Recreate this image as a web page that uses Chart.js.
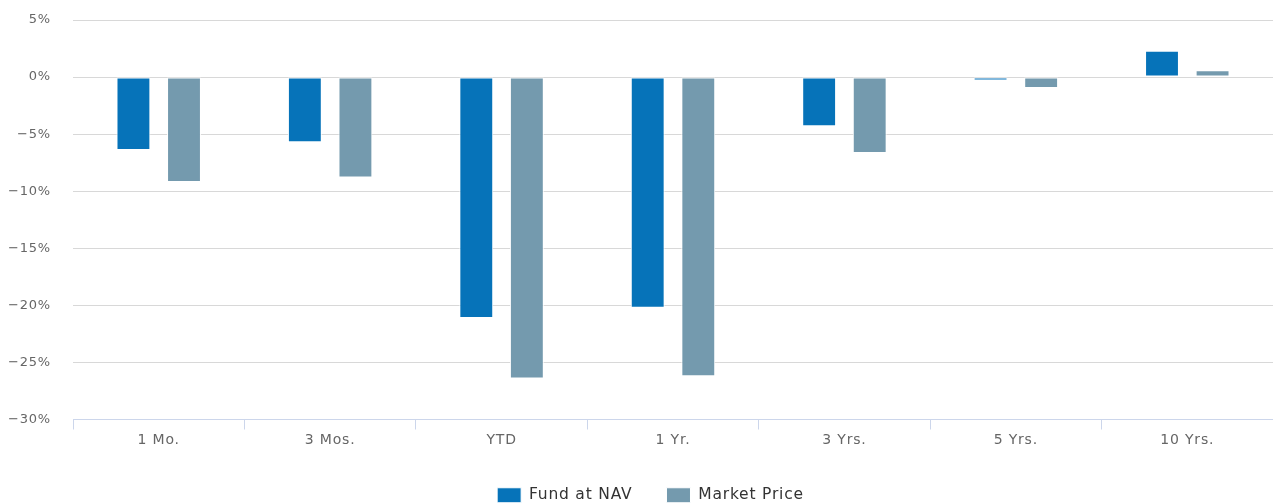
<!DOCTYPE html>
<html>
<head>
<meta charset="utf-8">
<script src="https://cdn.jsdelivr.net/npm/chart.js@4/dist/chart.umd.min.js"></script>
<style>
html,body{margin:0;padding:0;background:#fff;}
#wrap{width:1273px;height:504px;position:relative;}
</style>
</head>
<body>
<div id="wrap"><canvas id="c" width="1273" height="504"></canvas></div>
<script>
const categories = ["1 Mo.", "3 Mos.", "YTD", "1 Yr.", "3 Yrs.", "5 Yrs.", "10 Yrs."];
const fundAtNav = [-6.4, -5.7, -21.1, -20.2, -4.3, -0.3, 2.3];
const marketPrice = [-9.2, -8.8, -26.4, -26.2, -6.65, -0.95, 0.6];
const seriesNames = ["Fund at NAV", "Market Price"];
const yMin = -30, yMax = 5, yStep = 5;

const spacingPlugin = {
  id: 'spacing',
  beforeInit(chart) { chart.ctx.letterSpacing = '0.8px'; },
  beforeLayout(chart) { chart.ctx.letterSpacing = '0.8px'; },
  afterLayout(chart) { if (chart.legend) { chart.legend.left += 28; } }
};

const family = "'DejaVu Sans', sans-serif";
new Chart(document.getElementById('c'), {
  type: 'bar',
  plugins: [spacingPlugin],
  data: {
    labels: categories,
    datasets: [
      {label: seriesNames[0], data: fundAtNav, backgroundColor: '#0673b9', borderColor: '#ffffff', borderWidth: 1, borderSkipped: false},
      {label: seriesNames[1], data: marketPrice, backgroundColor: '#749aae', borderColor: '#ffffff', borderWidth: 1, borderSkipped: false}
    ]
  },
  options: {
    responsive: false,
    animation: false,
    devicePixelRatio: 1,
    layout: {padding: {top: 20, right: 0, left: 0, bottom: -9}},
    datasets: {bar: {categoryPercentage: 0.59, barPercentage: 0.67}},
    scales: {
      x: {
        afterFit: s => { s.height = 34; },
        grid: {offset: true, drawOnChartArea: false, tickLength: 10, color: '#ccd6eb', lineWidth: 1},
        border: {color: '#ccd6eb', width: 1},
        ticks: {color: '#666666', font: {family: family, size: 14}, padding: 2, maxRotation: 0}
      },
      y: {
        min: yMin, max: yMax,
        afterFit: s => { s.width = 73; s.paddingTop = 0; s.paddingBottom = 0; },
        grid: {color: '#d8d8d8', lineWidth: 1, drawTicks: false},
        border: {display: false},
        ticks: {
          stepSize: yStep, color: '#666666', font: {family: family, size: 13}, padding: 22,
          callback: v => (v < 0 ? '\u2212' + Math.abs(v) : v) + '%'
        }
      }
    },
    plugins: {
      legend: {
        position: 'bottom',
        labels: {
          boxWidth: 24, boxHeight: 15, padding: 34, color: '#333333',
          font: {family: family, size: 15.5}
        }
      },
      tooltip: {enabled: false}
    }
  }
});
</script>
</body>
</html>
